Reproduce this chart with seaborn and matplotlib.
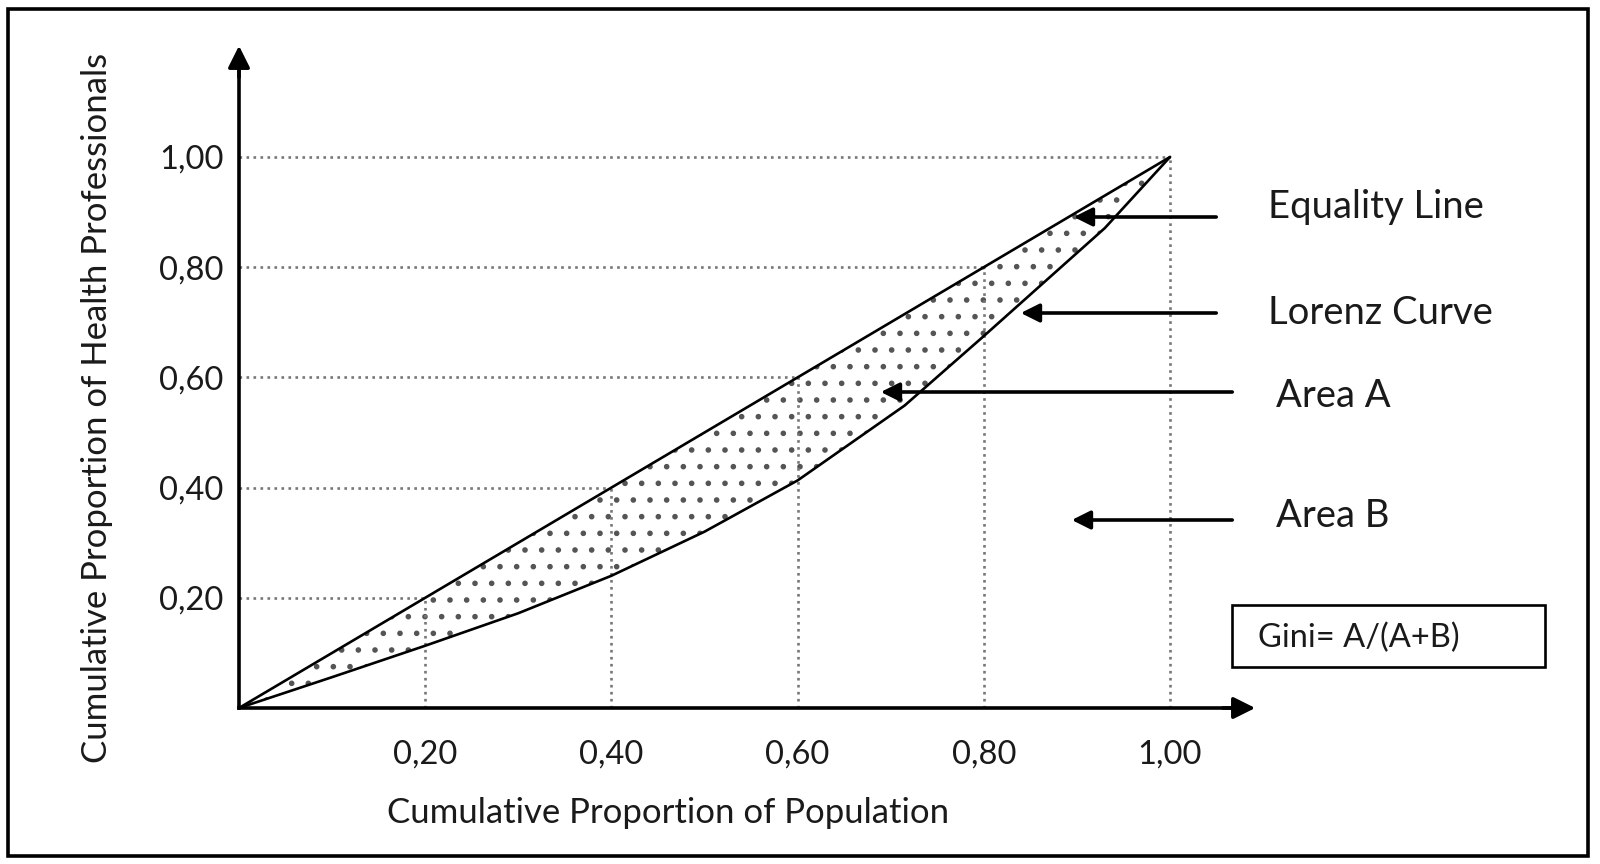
import numpy as np
import pandas as pd
import seaborn as sns
import matplotlib.pyplot as plt
from matplotlib.patches import Rectangle

# values
population = [0.0, 0.1, 0.2, 0.3, 0.4, 0.5, 0.6, 0.715, 0.8, 0.93, 1.0]
lorenz = [0.0, 0.056, 0.113, 0.172, 0.24, 0.32, 0.413, 0.549, 0.675, 0.871, 1.0]
equality = population  # line of perfect equality, y = x
tick_values = [0.2, 0.4, 0.6, 0.8, 1.0]
tick_labels = ['0,20', '0,40', '0,60', '0,80', '1,00']
callouts = ['Equality Line', 'Lorenz Curve', 'Area A', 'Area B']
gini_text = 'Gini= A/(A+B)'
xlabel = 'Cumulative Proportion of Population'
ylabel = 'Cumulative Proportion of Health Professionals'

sns.set_style('white')
plt.rcParams['font.family'] = ['Lato', 'DejaVu Sans']
plt.rcParams['hatch.linewidth'] = 1.6

W, H = 1600, 864
X0, X1 = 239, 1170   # pixel of x=0 and x=1
Y0, Y1 = 708, 157    # pixel of y=0 and y=1
TEXT = '#1a1a1a'


def to_data(px, py):
    return ((px - X0) / (X1 - X0), (Y0 - py) / (Y0 - Y1))


fig = plt.figure(figsize=(16, 8.64), dpi=100)
ax = fig.add_axes([0, 0, 1, 1])
ax.set_xlim(to_data(0, 0)[0], to_data(W, 0)[0])
ax.set_ylim(to_data(0, H)[1], to_data(0, 0)[1])

df = pd.DataFrame({'population': population, 'lorenz': lorenz, 'equality': equality})

# dotted area between curves
ax.fill_between(df['population'], df['lorenz'], df['equality'], facecolor='none',
                edgecolor='#555555', hatch='.', linewidth=0, zorder=1)

# guide lines
ax.hlines(tick_values, 0, tick_values, colors='#777777', linestyles=':', lw=1.9, zorder=2)
ax.vlines(tick_values, 0, tick_values, colors='#777777', linestyles=':', lw=1.9, zorder=2)

sns.lineplot(data=df, x='population', y='equality', color='black', lw=1.9, ax=ax, zorder=3)
sns.lineplot(data=df, x='population', y='lorenz', color='black', lw=1.9, ax=ax, zorder=3)

# axes with arrow heads
for side in ['top', 'right']:
    ax.spines[side].set_visible(False)
for side in ['left', 'bottom']:
    ax.spines[side].set_position(('data', 0))
    ax.spines[side].set_linewidth(2.6)
    ax.spines[side].set_color('black')
ytip = to_data(X0, 43)[1]
xtip = to_data(1258, Y0)[0]
ax.spines['left'].set_bounds(0, to_data(X0, 60)[1])
ax.spines['bottom'].set_bounds(0, to_data(1240, Y0)[0])
ax.annotate('', xy=(0, ytip), xytext=(0, to_data(X0, 80)[1]),
            arrowprops=dict(arrowstyle='-|>', color='black', lw=2.6, mutation_scale=33))
ax.annotate('', xy=(xtip, 0), xytext=(to_data(1220, Y0)[0], 0),
            arrowprops=dict(arrowstyle='-|>', color='black', lw=2.6, mutation_scale=33))

ax.set_xticks(tick_values, tick_labels)
ax.set_yticks(tick_values, tick_labels)
ax.tick_params(axis='x', length=0, pad=23, labelsize=23.5, colors=TEXT)
ax.tick_params(axis='y', length=0, pad=11, labelsize=23.5, colors=TEXT)
ax.set_xlabel('')
ax.set_ylabel('')

ax.text(*to_data(668, 813), xlabel, ha='center', va='center', fontsize=25, color=TEXT)
ax.text(*to_data(97, 408), ylabel, ha='center', va='center', rotation=90,
        fontsize=25, color=TEXT)

# callouts
arrow_rows = [(1219, 1071, 217, 1268, 207),
              (1219, 1018, 313, 1268, 313),
              (1235, 878, 392, 1276, 396),
              (1235, 1069, 520, 1276, 516)]
for label, (xs, xe, ya, xt, yt) in zip(callouts, arrow_rows):
    ax.annotate('', xy=to_data(xe, ya), xytext=to_data(xs, ya),
                arrowprops=dict(arrowstyle='-|>', color='black', lw=2.6, mutation_scale=28))
    ax.text(*to_data(xt, yt), label, ha='left', va='center', fontsize=27.5, color=TEXT)

# gini box
fig.add_artist(Rectangle((1232 / W, 1 - 667 / H), (1545 - 1232) / W, (667 - 605) / H,
                         transform=fig.transFigure, fill=False, lw=1.9, ec='black'))
fig.text(1258 / W, 1 - 638 / H, gini_text, ha='left', va='center', fontsize=23.5, color=TEXT)

# outer frame
fig.add_artist(Rectangle((8 / W, 1 - 856 / H), (1588 - 8) / W, (856 - 9) / H,
                         transform=fig.transFigure, fill=False, lw=2.6, ec='black'))

fig.savefig('out.png', dpi=100)
